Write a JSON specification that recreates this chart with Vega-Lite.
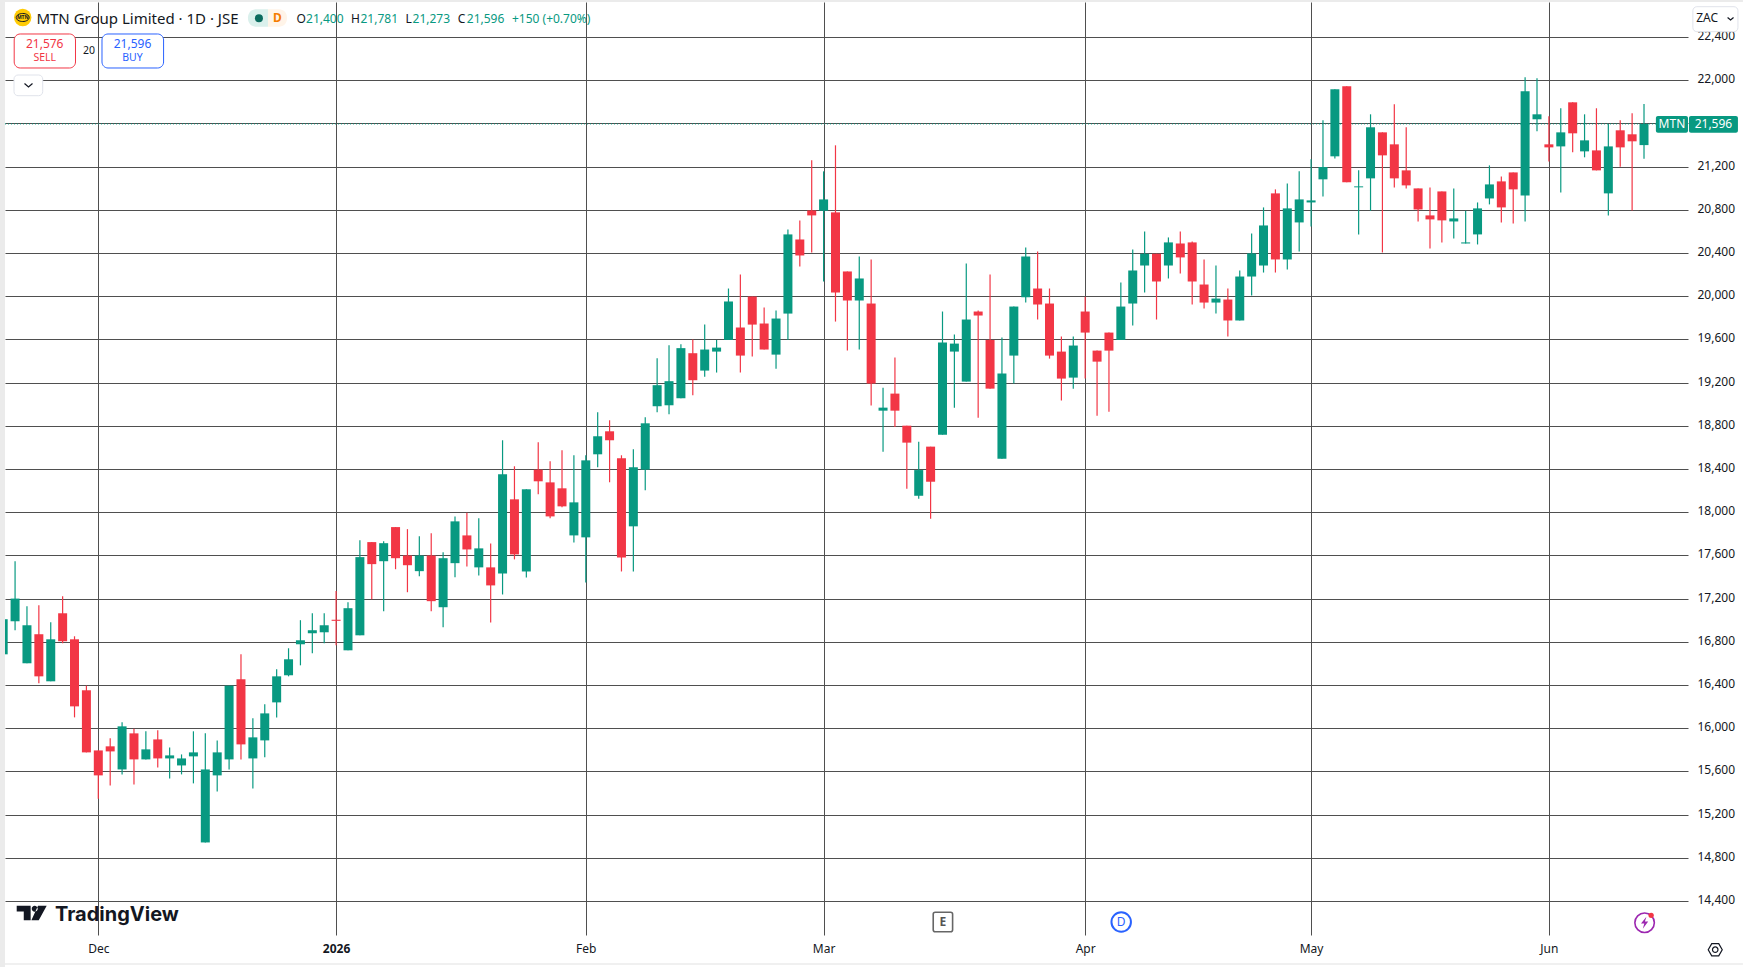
{
  "$schema": "https://vega.github.io/schema/vega-lite/v6.json",
  "width": 1683,
  "height": 933,
  "padding": {"left": 5, "top": 2, "right": 55, "bottom": 32},
  "autosize": "none",
  "background": "#ffffff",
  "config": {"view": {"stroke": null}, "font": "Noto Sans", "text": {"font": "Noto Sans"}},
  "datasets": {
    "candles": [
      {"bar":0,"date":"2025-11-19","open":16685,"high":17040,"low":16660,"close":17010},
      {"bar":1,"date":"2025-11-20","open":16991,"high":17547,"low":16908,"close":17201},
      {"bar":2,"date":"2025-11-21","open":16602,"high":17130,"low":16602,"close":16954},
      {"bar":3,"date":"2025-11-24","open":16871,"high":17140,"low":16417,"close":16481},
      {"bar":4,"date":"2025-11-25","open":16435,"high":16982,"low":16435,"close":16824},
      {"bar":5,"date":"2025-11-26","open":17065,"high":17223,"low":16787,"close":16806},
      {"bar":6,"date":"2025-11-27","open":16824,"high":16852,"low":16101,"close":16203},
      {"bar":7,"date":"2025-11-28","open":16352,"high":16395,"low":15777,"close":15777},
      {"bar":8,"date":"2025-12-01","open":15795,"high":15795,"low":15347,"close":15564},
      {"bar":9,"date":"2025-12-02","open":15833,"high":15907,"low":15471,"close":15786},
      {"bar":10,"date":"2025-12-03","open":15619,"high":16055,"low":15573,"close":16018},
      {"bar":11,"date":"2025-12-04","open":15953,"high":15996,"low":15480,"close":15712},
      {"bar":12,"date":"2025-12-05","open":15712,"high":15972,"low":15712,"close":15805},
      {"bar":13,"date":"2025-12-08","open":15897,"high":15981,"low":15638,"close":15721},
      {"bar":14,"date":"2025-12-09","open":15721,"high":15823,"low":15536,"close":15749},
      {"bar":15,"date":"2025-12-10","open":15656,"high":15758,"low":15573,"close":15721},
      {"bar":16,"date":"2025-12-11","open":15740,"high":15972,"low":15490,"close":15777},
      {"bar":17,"date":"2025-12-12","open":14943,"high":15953,"low":14943,"close":15619},
      {"bar":18,"date":"2025-12-15","open":15564,"high":15888,"low":15415,"close":15777},
      {"bar":19,"date":"2025-12-17","open":15712,"high":16395,"low":15619,"close":16395},
      {"bar":20,"date":"2025-12-18","open":16454,"high":16685,"low":15712,"close":15851},
      {"bar":21,"date":"2025-12-19","open":15721,"high":16092,"low":15443,"close":15916},
      {"bar":22,"date":"2025-12-22","open":15888,"high":16222,"low":15731,"close":16138},
      {"bar":23,"date":"2025-12-23","open":16240,"high":16546,"low":16101,"close":16481},
      {"bar":24,"date":"2025-12-24","open":16491,"high":16741,"low":16481,"close":16639},
      {"bar":25,"date":"2025-12-29","open":16778,"high":17001,"low":16583,"close":16815},
      {"bar":26,"date":"2025-12-30","open":16880,"high":17065,"low":16695,"close":16908},
      {"bar":27,"date":"2025-12-31","open":16889,"high":17065,"low":16787,"close":16954},
      {"bar":28,"date":"2026-01-02","open":17005,"high":17272,"low":16769,"close":16995},
      {"bar":29,"date":"2026-01-05","open":16722,"high":17167,"low":16722,"close":17112},
      {"bar":30,"date":"2026-01-06","open":16861,"high":17742,"low":16861,"close":17585},
      {"bar":31,"date":"2026-01-07","open":17724,"high":17724,"low":17195,"close":17520},
      {"bar":32,"date":"2026-01-08","open":17547,"high":17733,"low":17084,"close":17714},
      {"bar":33,"date":"2026-01-09","open":17863,"high":17863,"low":17473,"close":17575},
      {"bar":34,"date":"2026-01-12","open":17600,"high":17844,"low":17260,"close":17510},
      {"bar":35,"date":"2026-01-13","open":17455,"high":17779,"low":17408,"close":17600},
      {"bar":36,"date":"2026-01-14","open":17600,"high":17807,"low":17084,"close":17177},
      {"bar":37,"date":"2026-01-15","open":17121,"high":17631,"low":16936,"close":17575},
      {"bar":38,"date":"2026-01-16","open":17529,"high":17962,"low":17399,"close":17916},
      {"bar":39,"date":"2026-01-19","open":17786,"high":17996,"low":17499,"close":17656},
      {"bar":40,"date":"2026-01-20","open":17490,"high":17944,"low":17415,"close":17666},
      {"bar":41,"date":"2026-01-21","open":17490,"high":17712,"low":16980,"close":17323},
      {"bar":42,"date":"2026-01-22","open":17434,"high":18667,"low":17239,"close":18352},
      {"bar":43,"date":"2026-01-23","open":18120,"high":18426,"low":17564,"close":17610},
      {"bar":44,"date":"2026-01-26","open":17452,"high":18213,"low":17397,"close":18213},
      {"bar":45,"date":"2026-01-27","open":18395,"high":18648,"low":18166,"close":18287},
      {"bar":46,"date":"2026-01-28","open":18277,"high":18472,"low":17944,"close":17962},
      {"bar":47,"date":"2026-01-29","open":18222,"high":18574,"low":18046,"close":18055},
      {"bar":48,"date":"2026-01-30","open":17786,"high":18528,"low":17721,"close":18092},
      {"bar":49,"date":"2026-02-02","open":17768,"high":18528,"low":17350,"close":18481},
      {"bar":50,"date":"2026-02-03","open":18537,"high":18926,"low":18417,"close":18704},
      {"bar":51,"date":"2026-02-04","open":18750,"high":18852,"low":18278,"close":18667},
      {"bar":52,"date":"2026-02-05","open":18500,"high":18528,"low":17452,"close":17582},
      {"bar":53,"date":"2026-02-06","open":17870,"high":18583,"low":17452,"close":18417},
      {"bar":54,"date":"2026-02-09","open":18395,"high":18880,"low":18203,"close":18824},
      {"bar":55,"date":"2026-02-10","open":18982,"high":19427,"low":18926,"close":19177},
      {"bar":56,"date":"2026-02-11","open":18991,"high":19547,"low":18908,"close":19214},
      {"bar":57,"date":"2026-02-12","open":19056,"high":19557,"low":19056,"close":19520},
      {"bar":58,"date":"2026-02-13","open":19473,"high":19600,"low":19084,"close":19223},
      {"bar":59,"date":"2026-02-16","open":19312,"high":19738,"low":19256,"close":19507},
      {"bar":60,"date":"2026-02-17","open":19488,"high":19596,"low":19294,"close":19525},
      {"bar":61,"date":"2026-02-18","open":19596,"high":20072,"low":19596,"close":19952},
      {"bar":62,"date":"2026-02-19","open":19711,"high":20202,"low":19294,"close":19451},
      {"bar":63,"date":"2026-02-20","open":19998,"high":19998,"low":19442,"close":19738},
      {"bar":64,"date":"2026-02-23","open":19748,"high":19896,"low":19507,"close":19507},
      {"bar":65,"date":"2026-02-24","open":19460,"high":19868,"low":19330,"close":19794},
      {"bar":66,"date":"2026-02-25","open":19840,"high":20619,"low":19596,"close":20573},
      {"bar":67,"date":"2026-02-26","open":20526,"high":20702,"low":20276,"close":20378},
      {"bar":68,"date":"2026-02-27","open":20795,"high":21259,"low":20406,"close":20749},
      {"bar":69,"date":"2026-03-02","open":20792,"high":21157,"low":20137,"close":20897},
      {"bar":70,"date":"2026-03-03","open":20777,"high":21398,"low":19766,"close":20035},
      {"bar":71,"date":"2026-03-04","open":20230,"high":20230,"low":19497,"close":19961},
      {"bar":72,"date":"2026-03-05","open":19961,"high":20369,"low":19507,"close":20165},
      {"bar":73,"date":"2026-03-06","open":19933,"high":20341,"low":18988,"close":19192},
      {"bar":74,"date":"2026-03-09","open":18941,"high":19154,"low":18561,"close":18969},
      {"bar":75,"date":"2026-03-10","open":19099,"high":19433,"low":18790,"close":18941},
      {"bar":76,"date":"2026-03-11","open":18802,"high":18802,"low":18218,"close":18645},
      {"bar":77,"date":"2026-03-12","open":18153,"high":18654,"low":18125,"close":18391},
      {"bar":78,"date":"2026-03-13","open":18608,"high":18608,"low":17940,"close":18283},
      {"bar":79,"date":"2026-03-16","open":18719,"high":19859,"low":18719,"close":19572},
      {"bar":80,"date":"2026-03-17","open":19488,"high":19646,"low":18969,"close":19562},
      {"bar":81,"date":"2026-03-18","open":19210,"high":20304,"low":19210,"close":19785},
      {"bar":82,"date":"2026-03-19","open":19859,"high":19868,"low":18876,"close":19822},
      {"bar":83,"date":"2026-03-20","open":19596,"high":20202,"low":19145,"close":19145},
      {"bar":84,"date":"2026-03-23","open":18496,"high":19618,"low":18496,"close":19284},
      {"bar":85,"date":"2026-03-24","open":19451,"high":19905,"low":19192,"close":19905},
      {"bar":86,"date":"2026-03-25","open":19992,"high":20452,"low":19942,"close":20369},
      {"bar":87,"date":"2026-03-26","open":20072,"high":20415,"low":19785,"close":19924},
      {"bar":88,"date":"2026-03-27","open":19933,"high":20072,"low":19423,"close":19451},
      {"bar":89,"date":"2026-03-30","open":19488,"high":19627,"low":19034,"close":19238},
      {"bar":90,"date":"2026-03-31","open":19247,"high":19627,"low":19145,"close":19544},
      {"bar":91,"date":"2026-04-01","open":19859,"high":19995,"low":19238,"close":19664},
      {"bar":92,"date":"2026-04-02","open":19497,"high":19497,"low":18895,"close":19395},
      {"bar":93,"date":"2026-04-07","open":19664,"high":19664,"low":18932,"close":19497},
      {"bar":94,"date":"2026-04-08","open":19596,"high":20128,"low":19596,"close":19905},
      {"bar":95,"date":"2026-04-09","open":19933,"high":20434,"low":19729,"close":20239},
      {"bar":96,"date":"2026-04-10","open":20285,"high":20601,"low":20035,"close":20394},
      {"bar":97,"date":"2026-04-13","open":20394,"high":20394,"low":19785,"close":20137},
      {"bar":98,"date":"2026-04-14","open":20285,"high":20545,"low":20165,"close":20499},
      {"bar":99,"date":"2026-04-15","open":20489,"high":20601,"low":20211,"close":20360},
      {"bar":100,"date":"2026-04-16","open":20499,"high":20508,"low":19924,"close":20137},
      {"bar":101,"date":"2026-04-17","open":20109,"high":20341,"low":19887,"close":19942},
      {"bar":102,"date":"2026-04-20","open":19942,"high":20285,"low":19840,"close":19979},
      {"bar":103,"date":"2026-04-21","open":19970,"high":20072,"low":19627,"close":19776},
      {"bar":104,"date":"2026-04-22","open":19776,"high":20239,"low":19776,"close":20183},
      {"bar":105,"date":"2026-04-23","open":20183,"high":20582,"low":20007,"close":20397},
      {"bar":106,"date":"2026-04-24","open":20285,"high":20823,"low":20220,"close":20656},
      {"bar":107,"date":"2026-04-28","open":20953,"high":20990,"low":20220,"close":20341},
      {"bar":108,"date":"2026-04-29","open":20341,"high":21045,"low":20248,"close":20814},
      {"bar":109,"date":"2026-04-30","open":20684,"high":21157,"low":20415,"close":20897},
      {"bar":110,"date":"2026-05-04","open":20869,"high":21268,"low":20647,"close":20888},
      {"bar":111,"date":"2026-05-05","open":21083,"high":21630,"low":20925,"close":21197},
      {"bar":112,"date":"2026-05-06","open":21296,"high":21917,"low":21277,"close":21917},
      {"bar":113,"date":"2026-05-07","open":21945,"high":21945,"low":21055,"close":21055},
      {"bar":114,"date":"2026-05-08","open":21009,"high":21166,"low":20573,"close":21018},
      {"bar":115,"date":"2026-05-11","open":21092,"high":21685,"low":20792,"close":21565},
      {"bar":116,"date":"2026-05-12","open":21518,"high":21518,"low":20406,"close":21305},
      {"bar":117,"date":"2026-05-13","open":21407,"high":21778,"low":21008,"close":21092},
      {"bar":118,"date":"2026-05-14","open":21166,"high":21565,"low":20999,"close":21027},
      {"bar":119,"date":"2026-05-15","open":20999,"high":20999,"low":20693,"close":20804},
      {"bar":120,"date":"2026-05-18","open":20749,"high":21008,"low":20443,"close":20712},
      {"bar":121,"date":"2026-05-19","open":20971,"high":20971,"low":20499,"close":20703},
      {"bar":122,"date":"2026-05-20","open":20693,"high":20999,"low":20536,"close":20721},
      {"bar":123,"date":"2026-05-21","open":20489,"high":20792,"low":20489,"close":20499},
      {"bar":124,"date":"2026-05-22","open":20573,"high":20869,"low":20480,"close":20814},
      {"bar":125,"date":"2026-05-25","open":20906,"high":21212,"low":20851,"close":21036},
      {"bar":126,"date":"2026-05-26","open":21064,"high":21110,"low":20684,"close":20823},
      {"bar":127,"date":"2026-05-27","open":21147,"high":21147,"low":20675,"close":20990},
      {"bar":128,"date":"2026-05-28","open":20934,"high":22028,"low":20693,"close":21898},
      {"bar":129,"date":"2026-05-29","open":21639,"high":22019,"low":21528,"close":21685},
      {"bar":130,"date":"2026-06-01","open":21407,"high":21667,"low":21249,"close":21379},
      {"bar":131,"date":"2026-06-02","open":21388,"high":21741,"low":20962,"close":21518},
      {"bar":132,"date":"2026-06-03","open":21796,"high":21796,"low":21333,"close":21509},
      {"bar":133,"date":"2026-06-04","open":21342,"high":21685,"low":21287,"close":21444},
      {"bar":134,"date":"2026-06-05","open":21351,"high":21741,"low":21166,"close":21166},
      {"bar":135,"date":"2026-06-08","open":20953,"high":21596,"low":20749,"close":21388},
      {"bar":136,"date":"2026-06-09","open":21537,"high":21630,"low":21200,"close":21379},
      {"bar":137,"date":"2026-06-10","open":21500,"high":21694,"low":20795,"close":21435},
      {"bar":138,"date":"2026-06-11","open":21400,"high":21781,"low":21273,"close":21596}
    ]
  },
  "encoding": {
    "x": {
      "field": "bar",
      "type": "quantitative",
      "title": null,
      "scale": {"domain": [0.153, 141.7], "nice": false, "zero": false, "padding": 0},
      "axis": {
        "values": [8, 28, 49, 69, 91, 110, 130],
        "labelExpr": "datum.value == 8 ? 'Dec' : datum.value == 28 ? '2026' : datum.value == 49 ? 'Feb' : datum.value == 69 ? 'Mar' : datum.value == 91 ? 'Apr' : datum.value == 110 ? 'May' : 'Jun'",
        "labelFontWeight": {"expr": "datum.value == 28 ? 'bold' : 'normal'"},
        "grid": true,
        "gridColor": "#4f4f4f",
        "gridWidth": 1,
        "ticks": false,
        "domain": false,
        "labelFontSize": 12,
        "labelColor": "#131722",
        "labelPadding": 8.5,
        "labelOverlap": false,
        "labelBound": false,
        "labelFlush": false
      }
    },
    "y": {
      "field": "price",
      "type": "quantitative",
      "title": null,
      "scale": {"domain": [14086, 22725], "nice": false, "zero": false},
      "axis": {
        "orient": "right",
        "values": [14400, 14800, 15200, 15600, 16000, 16400, 16800, 17200, 17600, 18000, 18400, 18800, 19200, 19600, 20000, 20400, 20800, 21200, 21600, 22000, 22400],
        "labelExpr": "datum.value == 21600 ? '' : format(datum.value, ',d')",
        "grid": true,
        "gridColor": "#4f4f4f",
        "gridWidth": 1,
        "ticks": false,
        "domain": false,
        "labelFontSize": 12,
        "labelColor": "#131722",
        "labelPadding": 9,
        "labelOffset": -1.5,
        "labelOverlap": false,
        "labelBound": false,
        "labelFlush": false
      }
    }
  },
  "layer": [
    {
      "data": {"values": [
        {"bar": -0.2675, "bar2": 0.153, "price": 22743.5, "price2": 13789.6},
        {"bar": -0.2675, "bar2": 146.32, "price": 22743.5, "price2": 22725},
        {"bar": -0.2675, "bar2": 146.32, "price": 13824, "price2": 13811}
      ]},
      "mark": {"type": "rect", "color": "#ebebeb"},
      "encoding": {"x2": {"field": "bar2"}, "y2": {"field": "price2"}}
    },
    {
      "data": {"values": [{"price": 21596}]},
      "mark": {"type": "rule", "color": "#089981", "strokeWidth": 1, "strokeDash": [1, 2]},
      "encoding": {"x": {"value": 0}, "x2": {"value": 1683}}
    },
    {
      "data": {"name": "candles"},
      "mark": {"type": "rule", "strokeWidth": 1.2, "clip": true},
      "encoding": {
        "y": {"field": "low"},
        "y2": {"field": "high"},
        "color": {"condition": {"test": "datum.close >= datum.open", "value": "#089981"}, "value": "#F23645"}
      }
    },
    {
      "data": {"name": "candles"},
      "mark": {"type": "bar", "width": 9, "clip": true},
      "encoding": {
        "y": {"field": "open"},
        "y2": {"field": "close"},
        "color": {"condition": {"test": "datum.close >= datum.open", "value": "#089981"}, "value": "#F23645"}
      }
    },
    {
      "data": {"values": [{"bar": 0.927, "bar2": 6.082, "price": 22428.7, "price2": 22113.9}]},
      "mark": {"type": "rect", "fill": "#ffffff", "stroke": "#F23645", "strokeWidth": 1, "cornerRadius": 6},
      "encoding": {"x2": {"field": "bar2"}, "y2": {"field": "price2"}}
    },
    {
      "data": {"values": [{"bar": 8.311, "bar2": 13.491, "price": 22428.7, "price2": 22113.9}]},
      "mark": {"type": "rect", "fill": "#ffffff", "stroke": "#2962FF", "strokeWidth": 1, "cornerRadius": 6},
      "encoding": {"x2": {"field": "bar2"}, "y2": {"field": "price2"}}
    },
    {
      "data": {"values": [
        {"bar": 0.91, "bar2": 3.324, "price": 22049, "price2": 21857.4},
        {"bar": 142.11, "bar2": 145.9, "price": 22681.5, "price2": 22450}
      ]},
      "mark": {"type": "rect", "fill": "#ffffff", "stroke": "#e0e3eb", "strokeWidth": 1, "cornerRadius": 4},
      "encoding": {"x2": {"field": "bar2"}, "y2": {"field": "price2"}}
    },
    {
      "data": {"values": [
        {"bar": 1.793, "price": 21970.3, "part": "menu"},
        {"bar": 2.129, "price": 21937.9, "part": "menu"},
        {"bar": 2.466, "price": 21970.3, "part": "menu"},
        {"bar": 145.03, "price": 22581.5, "part": "zac"},
        {"bar": 145.28, "price": 22558.3, "part": "zac"},
        {"bar": 145.53, "price": 22581.5, "part": "zac"}
      ]},
      "mark": {"type": "line", "color": "#131722", "strokeWidth": 1.2},
      "encoding": {"detail": {"field": "part"}, "order": {"field": "bar"}}
    },
    {
      "data": {"values": [{"bar": 20.59, "bar2": 22.27, "price": 22657.4, "price2": 22496.3}]},
      "mark": {"type": "rect", "fill": "#daf0ec", "cornerRadiusTopLeft": 8, "cornerRadiusBottomLeft": 8},
      "encoding": {"x2": {"field": "bar2"}, "y2": {"field": "price2"}}
    },
    {
      "data": {"values": [{"bar": 22.27, "bar2": 23.87, "price": 22657.4, "price2": 22496.3}]},
      "mark": {"type": "rect", "fill": "#fff4e8", "cornerRadiusTopRight": 8, "cornerRadiusBottomRight": 8},
      "encoding": {"x2": {"field": "bar2"}, "y2": {"field": "price2"}}
    },
    {
      "data": {"values": [{"bar": 21.51, "price": 22574}]},
      "mark": {"type": "point", "shape": "circle", "filled": true, "size": 64, "color": "#0b6b5e", "opacity": 1}
    },
    {
      "data": {"values": [{"bar": 139.0, "bar2": 141.7, "price": 21669, "price2": 21514.8}, {"bar": 141.78, "bar2": 145.9, "price": 21669, "price2": 21514.8}]},
      "mark": {"type": "rect", "fill": "#089981", "cornerRadius": 2},
      "encoding": {"x2": {"field": "bar2"}, "y2": {"field": "price2"}}
    },
    {
      "data": {"values": [{"bar": 140.35, "price": 21592.6, "label": "MTN"}, {"bar": 143.84, "price": 21592.6, "label": "21,596"}]},
      "mark": {"type": "text", "color": "#ffffff", "fontSize": 12, "align": "center", "baseline": "middle"},
      "encoding": {"text": {"field": "label"}}
    },
    {
      "data": {"values": [{"bar": 1.642, "price": 22581.5}]},
      "mark": {"type": "point", "shape": "circle", "filled": true, "size": 303, "color": "#FFCB05", "opacity": 1}
    },
    {
      "data": {"values": [{"bar": 1.642, "price": 22581.5}]},
      "mark": {"type": "point", "shape": "M-1,0 A1,0.62 0 1,1 1,0 A1,0.62 0 1,1 -1,0 Z", "filled": false, "size": 169, "color": "#131722", "strokeWidth": 1, "opacity": 1}
    },
    {
      "data": {"values": [{"bar": 1.642, "price": 22581.5, "label": "MTN"}]},
      "mark": {"type": "text", "color": "#131722", "fontSize": 5, "fontWeight": "bold", "align": "center", "baseline": "middle"},
      "encoding": {"text": {"field": "label"}}
    },
    {
      "data": {"values": [{"bar": 2.794, "price": 22572, "label": "MTN Group Limited · 1D · JSE"}]},
      "mark": {"type": "text", "color": "#131722", "fontSize": 15, "align": "left", "baseline": "middle"},
      "encoding": {"text": {"field": "label"}}
    },
    {
      "data": {"values": [{"bar": 23.07, "price": 22574, "label": "D"}]},
      "mark": {"type": "text", "color": "#f57c00", "fontSize": 12, "fontWeight": "bold", "align": "center", "baseline": "middle"},
      "encoding": {"text": {"field": "label"}}
    },
    {
      "data": {"values": [
        {"bar": 24.66, "price": 22572, "label": "O"},
        {"bar": 29.25, "price": 22572, "label": "H"},
        {"bar": 33.83, "price": 22572, "label": "L"},
        {"bar": 38.23, "price": 22572, "label": "C"}
      ]},
      "mark": {"type": "text", "color": "#131722", "fontSize": 12, "align": "left", "baseline": "middle"},
      "encoding": {"text": {"field": "label"}}
    },
    {
      "data": {"values": [
        {"bar": 25.47, "price": 22572, "label": "21,400"},
        {"bar": 30.05, "price": 22572, "label": "21,781"},
        {"bar": 34.43, "price": 22572, "label": "21,273"},
        {"bar": 38.99, "price": 22572, "label": "21,596"},
        {"bar": 42.79, "price": 22572, "label": "+150 (+0.70%)"}
      ]},
      "mark": {"type": "text", "color": "#089981", "fontSize": 12, "align": "left", "baseline": "middle"},
      "encoding": {"text": {"field": "label"}}
    },
    {
      "data": {"values": [{"bar": 3.492, "price": 22338.9, "label": "21,576"}]},
      "mark": {"type": "text", "color": "#F23645", "fontSize": 12, "align": "center", "baseline": "middle"},
      "encoding": {"text": {"field": "label"}}
    },
    {
      "data": {"values": [{"bar": 3.492, "price": 22206.5, "label": "SELL"}]},
      "mark": {"type": "text", "color": "#F23645", "fontSize": 10.5, "align": "center", "baseline": "middle"},
      "encoding": {"text": {"field": "label"}}
    },
    {
      "data": {"values": [{"bar": 10.876, "price": 22338.9, "label": "21,596"}]},
      "mark": {"type": "text", "color": "#2962FF", "fontSize": 12, "align": "center", "baseline": "middle"},
      "encoding": {"text": {"field": "label"}}
    },
    {
      "data": {"values": [{"bar": 10.876, "price": 22206.5, "label": "BUY"}]},
      "mark": {"type": "text", "color": "#2962FF", "fontSize": 10.5, "align": "center", "baseline": "middle"},
      "encoding": {"text": {"field": "label"}}
    },
    {
      "data": {"values": [{"bar": 7.217, "price": 22274, "label": "20"}]},
      "mark": {"type": "text", "color": "#131722", "fontSize": 10.5, "align": "center", "baseline": "middle"},
      "encoding": {"text": {"field": "label"}}
    },
    {
      "data": {"values": [{"bar": 142.39, "price": 22574, "label": "ZAC"}]},
      "mark": {"type": "text", "color": "#131722", "fontSize": 12, "align": "left", "baseline": "middle"},
      "encoding": {"text": {"field": "label"}}
    },
    {
      "data": {"values": [{"bar": 2.399, "price": 14289.7}]},
      "mark": {"type": "point", "shape": "M-1,-0.487 L-0.07,-0.487 L-0.07,0.487 L-0.53,0.487 L-0.53,-0.1 L-1,-0.1 Z M0,-0.28 A0.2,0.2 0 1,1 0.4,-0.28 A0.2,0.2 0 1,1 0,-0.28 Z M1,-0.487 L0.42,-0.487 L-0.02,0.487 L0.47,0.487 Z", "filled": true, "size": 900, "color": "#131722", "opacity": 1}
    },
    {
      "data": {"values": [{"bar": 4.358, "price": 14215.5, "label": "TradingView"}]},
      "mark": {"type": "text", "font": "Inter", "color": "#131722", "fontSize": 20, "fontWeight": "bold", "align": "left", "baseline": "alphabetic"},
      "encoding": {"text": {"field": "label"}}
    },
    {
      "data": {"values": [{"bar": 78.22, "bar2": 79.85, "price": 14296, "price2": 14116.7}]},
      "mark": {"type": "rect", "fill": "#ffffff", "stroke": "#666666", "strokeWidth": 1.6, "cornerRadius": 2},
      "encoding": {"x2": {"field": "bar2"}, "y2": {"field": "price2"}}
    },
    {
      "data": {"values": [{"bar": 79.04, "price": 14206.2, "label": "E"}]},
      "mark": {"type": "text", "color": "#555555", "fontSize": 12, "fontWeight": "bold", "align": "center", "baseline": "middle"},
      "encoding": {"text": {"field": "label"}}
    },
    {
      "data": {"values": [{"bar": 94.03, "price": 14206.2}]},
      "mark": {"type": "point", "shape": "circle", "filled": false, "fill": "#ffffff", "size": 380, "color": "#2962FF", "strokeWidth": 2, "opacity": 1}
    },
    {
      "data": {"values": [{"bar": 94.03, "price": 14206.2, "label": "D"}]},
      "mark": {"type": "text", "color": "#2962FF", "fontSize": 12, "align": "center", "baseline": "middle"},
      "encoding": {"text": {"field": "label"}}
    },
    {
      "data": {"values": [{"bar": 138.05, "price": 14199.8}]},
      "mark": {"type": "point", "shape": "circle", "filled": false, "size": 380, "color": "#9c27b0", "strokeWidth": 1.6, "opacity": 1}
    },
    {
      "data": {"values": [{"bar": 138.05, "price": 14199.8}]},
      "mark": {"type": "point", "shape": "M0.3,-1 L-0.6,0.15 L-0.05,0.15 L-0.3,1 L0.6,-0.2 L0.05,-0.2 Z", "filled": true, "size": 144, "color": "#9c27b0", "opacity": 1}
    },
    {
      "data": {"values": [{"bar": 138.6, "price": 14268.3}]},
      "mark": {"type": "point", "shape": "circle", "filled": true, "size": 28, "color": "#F23645", "opacity": 1}
    },
    {
      "data": {"values": [{"bar": 143.99, "price": 13950}]},
      "mark": {"type": "point", "shape": "M-1,0 L-0.5,-0.87 L0.5,-0.87 L1,0 L0.5,0.87 L-0.5,0.87 Z", "filled": false, "size": 196, "color": "#131722", "strokeWidth": 1.2, "opacity": 1}
    },
    {
      "data": {"values": [{"bar": 143.99, "price": 13950}]},
      "mark": {"type": "point", "shape": "circle", "filled": false, "size": 30, "color": "#131722", "strokeWidth": 1.2, "opacity": 1}
    }
  ]
}
